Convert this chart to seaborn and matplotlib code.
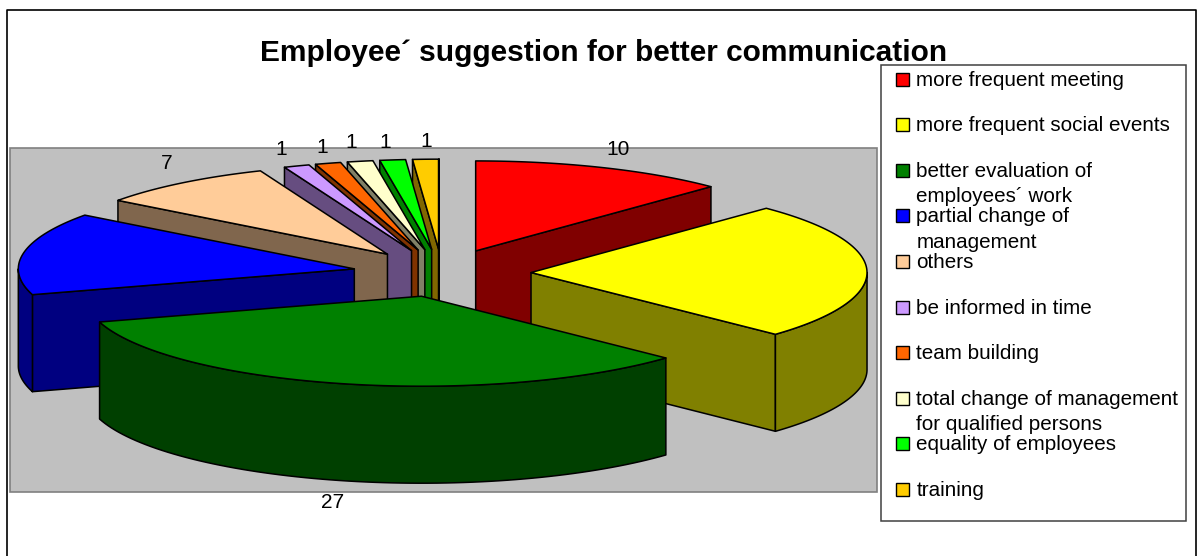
import numpy as np
import matplotlib
matplotlib.use("Agg")
import matplotlib.pyplot as plt
from matplotlib.patches import Polygon, Rectangle
import seaborn as sns

# Survey answers, in clockwise order from twelve o'clock
categories = [
    "more frequent meeting",
    "more frequent social events",
    "better evaluation of\nemployees´ work",
    "partial change of\nmanagement",
    "others",
    "be informed in time",
    "team building",
    "total change of management\nfor qualified persons",
    "equality of employees",
    "training",
]
values = [10, 20, 27, 12, 7, 1, 1, 1, 1, 1]
shown_labels = ["10", None, "27", None, "7", "1", "1", "1", "1", "1"]
top_colors = ["#FF0000", "#FFFF00", "#008000", "#0000FF", "#FFCC99",
              "#CC99FF", "#FF6600", "#FFFFCC", "#00FF00", "#FFCC00"]
title = "Employee´ suggestion for better communication"

sns.set_theme(style="white")
plt.rcParams["font.family"] = ["Liberation Sans", "DejaVu Sans"]

fig = plt.figure(figsize=(12.02, 5.56), dpi=100, facecolor="white")
ax = fig.add_axes([0, 0, 1, 1])
ax.set_xlim(0, 1202)
ax.set_ylim(556, 0)
ax.axis("off")

# Chart frame and plot area
ax.plot([7, 7, 1196, 1196], [556, 10, 10, 556], color="black", lw=1.2, zorder=1)
ax.add_patch(Rectangle((10, 148), 867, 344, fc="#C0C0C0", ec="#808080", lw=1.2, zorder=1))

# Pie geometry: screen ellipse, extrusion height and explosion fraction
CX, CY = 442.0, 273.0
RX, RY = 336.0, 90.0
DEPTH = 97.0
EXPLODE = 0.265

fractions = np.asarray(values, dtype=float) / sum(values)
edges = np.concatenate([[0.0], np.cumsum(fractions)]) * 2 * np.pi


def darker(color):
    r, g, b = matplotlib.colors.to_rgb(color)
    return (r * 0.5, g * 0.5, b * 0.5)


def point(theta, ox, oy, radius=1.0):
    return ox + radius * RX * np.sin(theta), oy - radius * RY * np.cos(theta)


def draw_face(pts, color, z):
    ax.add_patch(Polygon(pts, closed=True, fc=color, ec="black", lw=1.1,
                         joinstyle="round", zorder=z))


mids = (edges[:-1] + edges[1:]) / 2
order = np.argsort(-np.cos(mids))  # far slices first

for rank, i in enumerate(order):
    a, b, m = edges[i], edges[i + 1], mids[i]
    ox, oy = point(m, CX, CY, EXPLODE)
    z = 2 + rank
    side = darker(top_colors[i])

    # Radial walls that face the viewer
    for theta, normal in ((a, a - np.pi / 2), (b, b + np.pi / 2)):
        if np.cos(normal) < 0:
            x, y = point(theta, ox, oy)
            draw_face([(ox, oy), (x, y), (x, y + DEPTH), (ox, oy + DEPTH)], side, z)

    # Rim wall, for the part of the arc on the near half of the ellipse
    lo, hi = max(a, np.pi / 2), min(b, 3 * np.pi / 2)
    if hi > lo:
        ts = np.linspace(lo, hi, 80)
        xs, ys = point(ts, ox, oy)
        rim = list(zip(xs, ys)) + list(zip(xs[::-1], ys[::-1] + DEPTH))
        draw_face(rim, side, z + 0.2)

    # Top face
    ts = np.linspace(a, b, 80)
    xs, ys = point(ts, ox, oy)
    draw_face([(ox, oy)] + list(zip(xs, ys)), top_colors[i], z + 0.4)

# Data labels sit just outside the rim of their slice, nudged clear of the top face
label_nudge = {0: (15, -18), 2: (-11, 119), 4: (-15, -20), 5: (-15, -17), 6: (-6, -16),
               7: (-9, -19), 8: (-7, -17), 9: (1, -18)}
for i, text in enumerate(shown_labels):
    if text is None:
        continue
    ox, oy = point(mids[i], CX, CY, EXPLODE)
    x, y = point(mids[i], ox, oy)
    dx, dy = label_nudge[i]
    ax.text(x + dx, y + dy, text, ha="center", va="center", fontsize=15, color="black", zorder=30)

ax.text(604, 53, title, ha="center", va="center", fontsize=21.5, fontweight="bold",
        color="black", zorder=30)

# Legend box with one swatch per answer
ax.add_patch(Rectangle((881, 65), 305, 456, fc="white", ec="#404040", lw=1.1, zorder=31))
row_step = 45.6
for i, name in enumerate(categories):
    yc = 79 + i * row_step
    ax.add_patch(Rectangle((896, yc - 6.5), 13, 13, fc=top_colors[i], ec="black", lw=1.0, zorder=32))
    for j, line in enumerate(name.split("\n")):
        ax.text(916.5, yc + 1 + j * 25.5, line, ha="left", va="center", fontsize=14.9,
                color="black", zorder=32)

fig.savefig("out.png", dpi=100, facecolor="white")
